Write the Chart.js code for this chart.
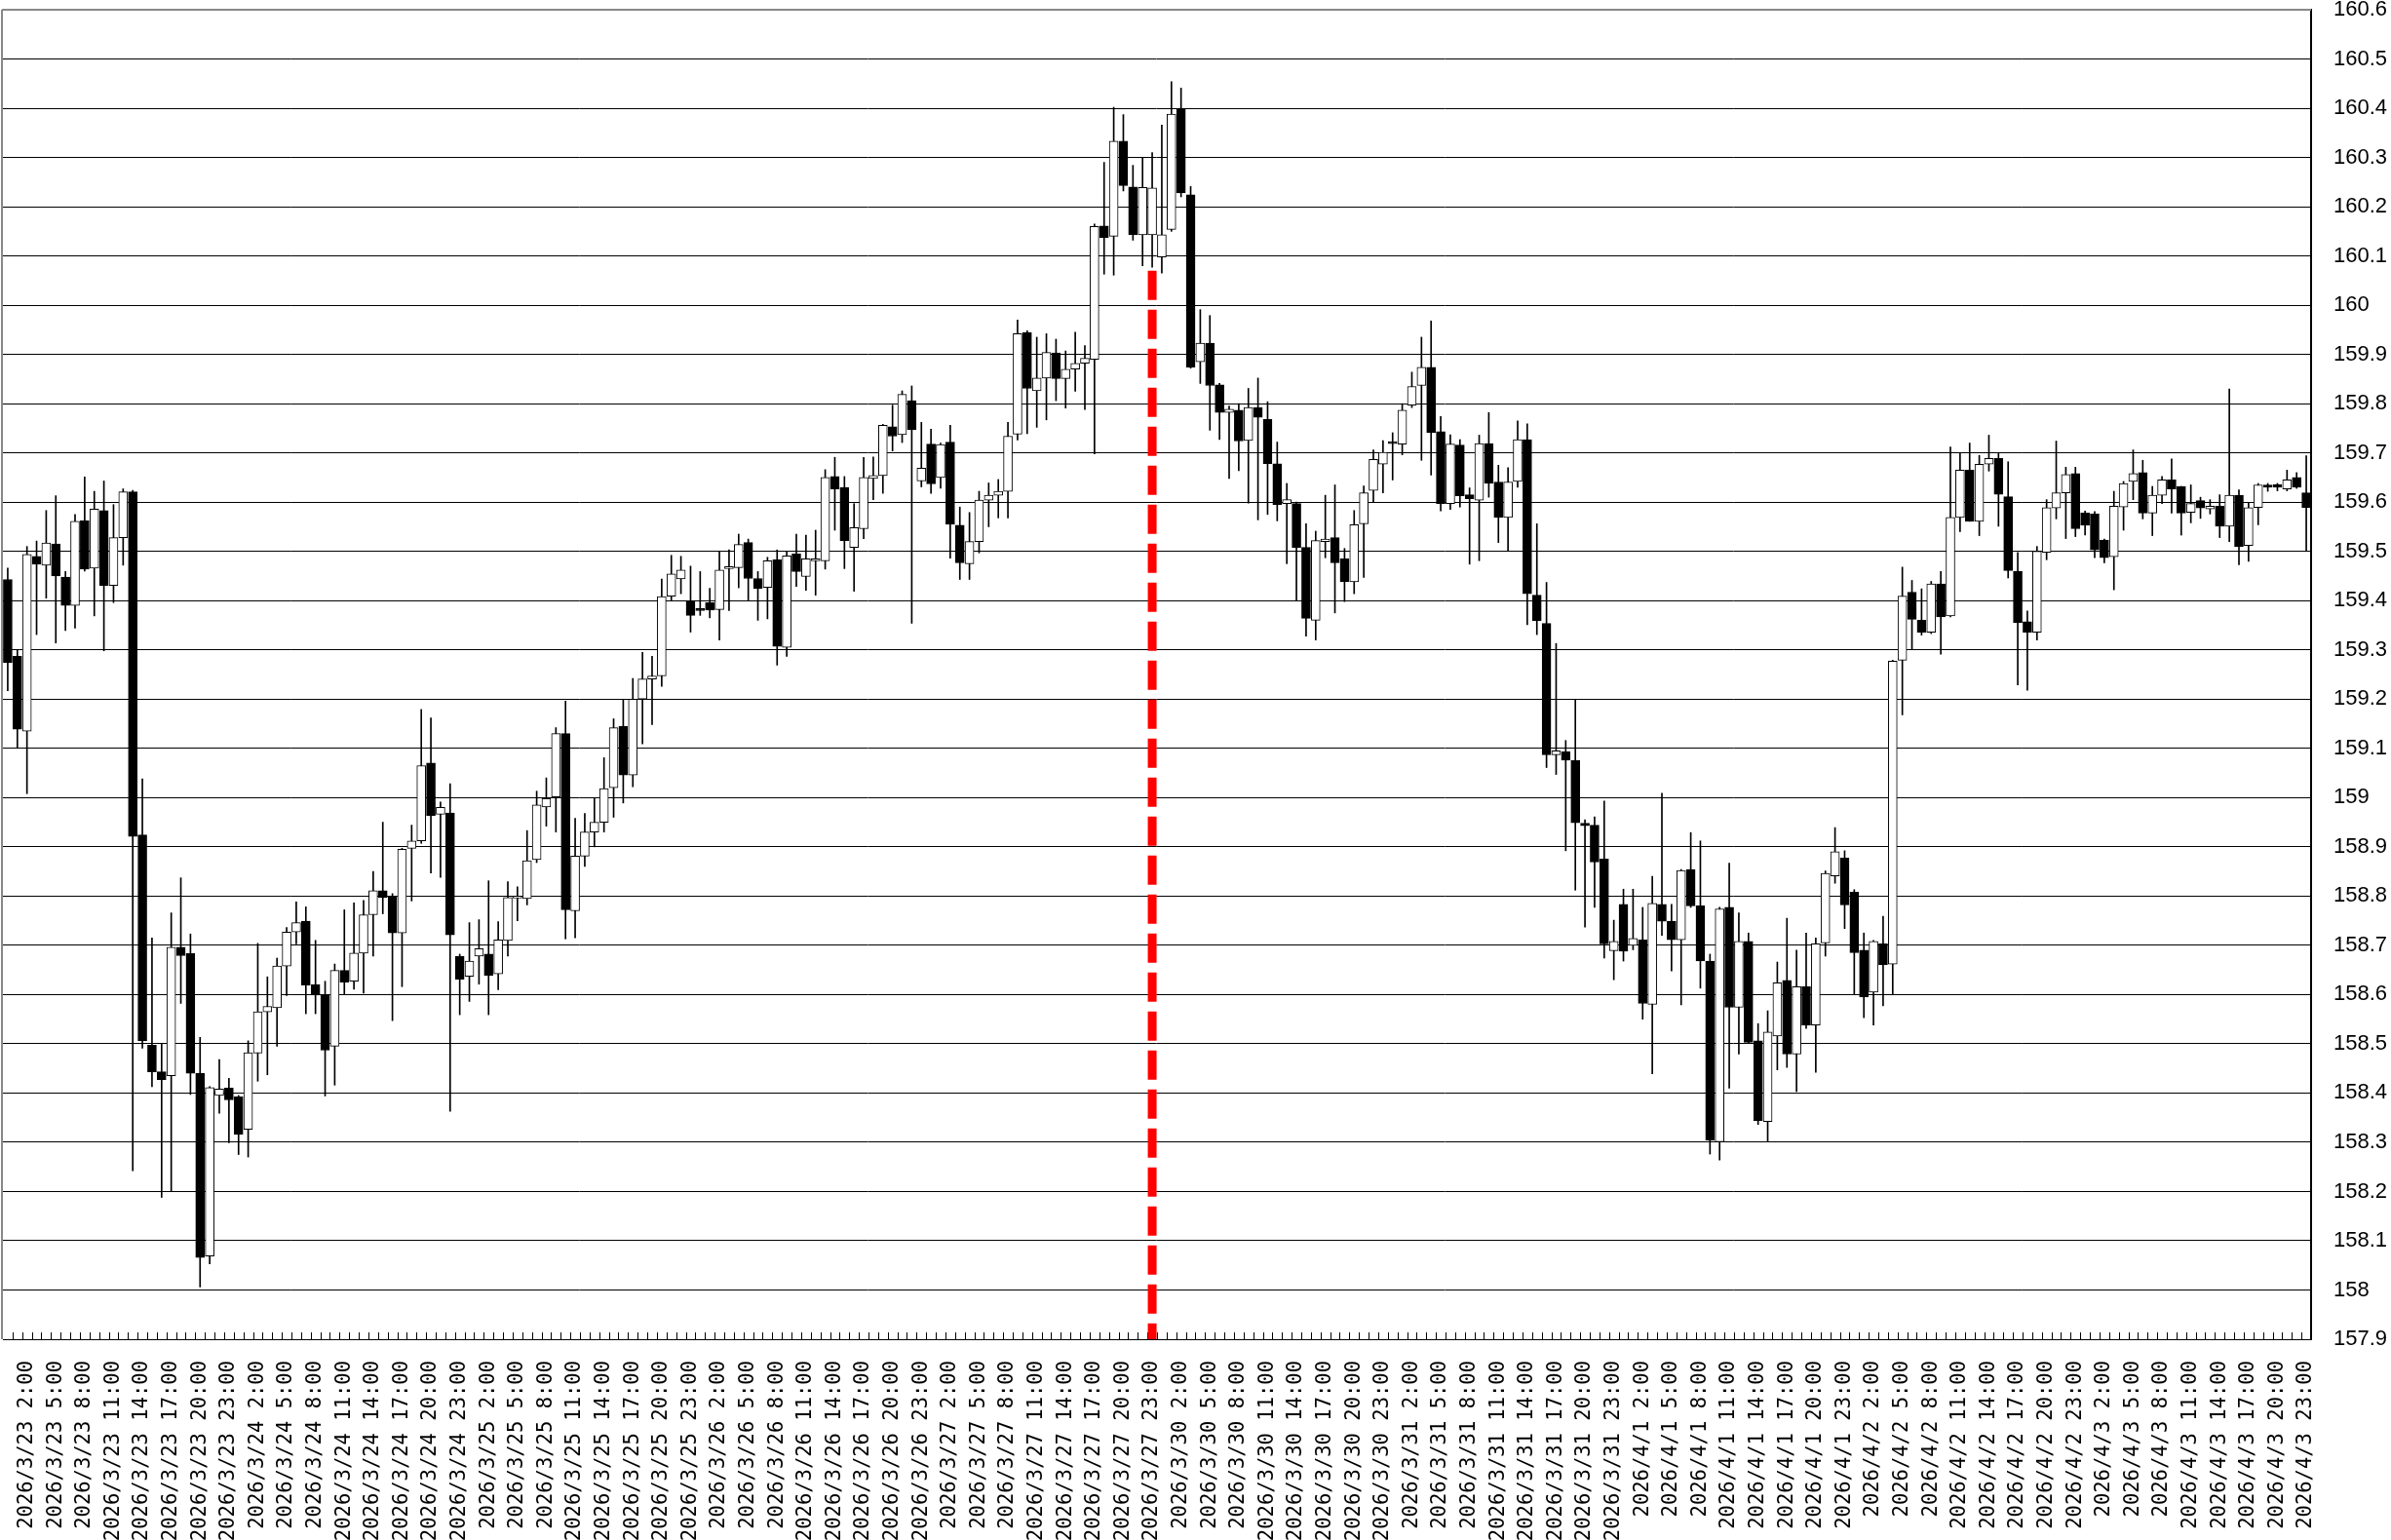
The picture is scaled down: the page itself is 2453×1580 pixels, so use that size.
<!DOCTYPE html>
<html>
<head>
<meta charset="utf-8">
<script src="https://cdn.jsdelivr.net/npm/chart.js@4.4.1/dist/chart.umd.min.js"></script>
<style>
  html, body { margin: 0; padding: 0; background: #fff; }
  #wrap { width: 2453px; height: 1580px; position: relative; }
</style>
</head>
<body>
<div id="wrap"><canvas id="c"></canvas></div>
<script>
// --- datos: velas de 1 hora USD/JPY ---
const days = ['2026/3/23', '2026/3/24', '2026/3/25', '2026/3/26', '2026/3/27',
              '2026/3/30', '2026/3/31', '2026/4/1', '2026/4/2', '2026/4/3'];

const open = [
  159.443,159.287,159.135,159.49,159.472,159.515,159.448,159.39,159.562,159.466,
  159.583,159.431,159.528,159.621,158.924,158.497,158.443,158.435,158.696,158.683,
  158.44,158.069,158.395,158.41,158.392,158.326,158.481,158.565,158.573,158.658,
  158.727,158.749,158.62,158.599,158.495,158.649,158.627,158.684,158.762,158.811,
  158.799,158.725,158.897,158.912,159.07,158.966,158.969,158.678,158.637,158.678,
  158.682,158.642,158.71,158.796,158.795,158.874,158.981,159.001,159.13,158.77,
  158.881,158.93,158.95,159.02,159.145,159.046,159.2,159.241,159.247,159.409,
  159.444,159.4,159.382,159.396,159.382,159.465,159.467,159.518,159.445,159.427,
  159.483,159.305,159.495,159.449,159.481,159.481,159.652,159.63,159.508,159.546,
  159.648,159.654,159.753,159.737,159.806,159.643,159.718,159.65,159.722,159.553,
  159.475,159.52,159.604,159.614,159.622,159.738,159.944,159.826,159.852,159.903,
  159.851,159.87,159.882,159.89,160.161,160.14,160.333,160.24,160.143,160.143,
  160.098,160.154,160.4,160.224,159.885,159.923,159.838,159.782,159.787,159.725,
  159.792,159.768,159.678,159.597,159.597,159.508,159.36,159.52,159.528,159.485,
  159.438,159.556,159.624,159.677,159.723,159.718,159.797,159.837,159.874,159.743,
  159.597,159.716,159.615,159.604,159.719,159.641,159.569,159.642,159.727,159.411,
  159.354,159.087,159.093,159.075,158.948,158.944,158.875,158.689,158.783,158.7,
  158.711,158.58,158.783,158.749,158.711,158.854,158.78,158.668,158.301,158.777,
  158.574,158.708,158.506,158.342,158.516,158.629,158.479,158.616,158.538,158.705,
  158.841,158.877,158.808,158.69,158.605,158.703,158.662,159.279,159.417,159.36,
  159.336,159.434,159.369,159.569,159.665,159.561,159.677,159.689,159.611,159.459,
  159.357,159.336,159.498,159.588,159.619,159.658,159.578,159.576,159.523,159.489,
  159.59,159.642,159.66,159.578,159.614,159.645,159.632,159.579,159.603,159.586,
  159.592,159.551,159.614,159.512,159.589,159.635,159.636,159.627,159.65,159.619
];

const high = [
  159.466,159.30,159.51,159.521,159.583,159.613,159.459,159.575,159.651,159.622,
  159.643,159.595,159.627,159.624,159.038,158.715,158.50,158.766,158.837,158.723,
  158.513,158.413,158.468,158.43,158.395,158.506,158.704,158.636,158.674,158.736,
  158.788,158.778,158.71,158.627,158.662,158.772,158.786,158.791,158.85,158.95,
  158.805,158.897,158.944,159.179,159.162,158.991,159.028,158.682,158.746,158.752,
  158.831,158.748,158.829,158.819,158.933,159.013,159.04,159.142,159.196,158.958,
  158.968,159.0,159.081,159.16,159.199,159.242,159.295,159.287,159.444,159.492,
  159.49,159.47,159.459,159.425,159.499,159.503,159.535,159.525,159.459,159.488,
  159.503,159.499,159.535,159.533,159.543,159.666,159.691,159.652,159.597,159.691,
  159.692,159.758,159.797,159.826,159.836,159.762,159.748,159.72,159.756,159.59,
  159.579,159.622,159.639,159.646,159.762,159.97,159.948,159.935,159.942,159.931,
  159.907,159.945,159.918,160.165,160.29,160.402,160.387,160.284,160.30,160.31,
  160.366,160.454,160.441,160.241,159.991,159.979,159.841,159.795,159.8,159.831,
  159.852,159.804,159.722,159.638,159.6,159.556,159.541,159.614,159.635,159.506,
  159.583,159.633,159.706,159.725,159.741,159.8,159.864,159.935,159.968,159.774,
  159.737,159.727,159.629,159.736,159.782,159.675,159.67,159.765,159.759,159.556,
  159.437,159.313,159.116,159.199,158.955,158.961,158.993,158.751,158.814,158.814,
  158.777,158.84,159.009,158.783,158.854,158.929,158.912,158.682,158.777,158.867,
  158.766,158.725,158.541,158.567,158.666,158.755,158.69,158.725,158.715,158.851,
  158.939,158.892,158.813,158.725,158.71,158.759,159.279,159.468,159.441,159.424,
  159.439,159.459,159.712,159.699,159.72,159.695,159.736,159.699,159.682,159.498,
  159.379,159.51,159.605,159.724,159.671,159.671,159.582,159.581,159.525,159.622,
  159.642,159.706,159.685,159.632,159.652,159.688,159.632,159.635,159.61,159.605,
  159.615,159.83,159.625,159.599,159.638,159.638,159.638,159.665,159.66,159.694
];

const low = [
  159.217,159.10,159.008,159.331,159.405,159.314,159.339,159.344,159.46,159.369,
  159.298,159.396,159.472,158.242,158.491,158.413,158.188,158.201,158.582,158.397,
  158.006,158.053,158.359,158.299,158.275,158.27,158.424,158.437,158.495,158.598,
  158.703,158.561,158.561,158.394,158.416,158.6,158.611,158.603,158.678,158.764,
  158.547,158.616,158.79,158.907,158.847,158.838,158.363,158.559,158.586,158.621,
  158.559,158.61,158.678,158.75,158.782,158.868,158.942,158.93,158.713,158.715,
  158.86,158.9,158.93,158.96,158.989,159.022,159.109,159.148,159.226,159.401,
  159.414,159.336,159.37,159.365,159.32,159.38,159.426,159.401,159.36,159.363,
  159.269,159.287,159.429,159.421,159.411,159.464,159.543,159.465,159.419,159.526,
  159.605,159.618,159.704,159.721,159.354,159.631,159.618,159.628,159.486,159.443,
  159.443,159.497,159.55,159.568,159.568,159.726,159.739,159.752,159.767,159.806,
  159.791,159.825,159.788,159.698,160.063,160.061,160.232,160.132,160.08,160.077,
  160.065,160.15,160.22,159.872,159.841,159.746,159.727,159.648,159.664,159.598,
  159.564,159.575,159.562,159.475,159.40,159.328,159.32,159.487,159.375,159.398,
  159.414,159.447,159.6,159.619,159.645,159.696,159.792,159.685,159.655,159.582,
  159.585,159.59,159.474,159.481,159.61,159.518,159.501,159.63,159.351,159.331,
  159.061,159.047,158.892,158.812,158.737,158.777,158.674,158.63,158.668,158.691,
  158.55,158.439,158.72,158.648,158.579,158.777,158.613,158.276,158.264,158.41,
  158.479,158.501,158.336,158.301,158.447,158.452,158.403,158.531,158.442,158.678,
  158.826,158.734,158.6,158.553,158.538,158.577,158.6,159.168,159.301,159.33,
  159.333,159.291,159.367,159.54,159.561,159.532,159.663,159.551,159.446,159.229,
  159.218,159.32,159.483,159.566,159.526,159.53,159.533,159.487,159.477,159.422,
  159.543,159.605,159.566,159.532,159.597,159.578,159.533,159.558,159.567,159.576,
  159.528,159.52,159.473,159.48,159.554,159.622,159.623,159.623,159.628,159.5
];

const close = [
  159.274,159.139,159.494,159.474,159.517,159.45,159.39,159.561,159.464,159.586,
  159.431,159.528,159.621,158.921,158.506,158.443,158.427,158.696,158.679,158.44,
  158.066,158.411,158.408,158.386,158.316,158.482,158.565,158.576,158.658,158.727,
  158.746,158.619,158.599,158.487,158.649,158.625,158.684,158.762,158.811,158.797,
  158.725,158.895,158.912,159.065,158.963,158.98,158.721,158.631,158.668,158.693,
  158.639,158.711,158.797,158.799,158.872,158.985,158.998,159.13,158.772,158.881,
  158.93,158.95,159.018,159.142,159.046,159.2,159.241,159.247,159.408,159.454,
  159.462,159.37,159.38,159.381,159.462,159.467,159.514,159.445,159.425,159.481,
  159.307,159.491,159.459,159.485,159.485,159.65,159.627,159.522,159.548,159.65,
  159.654,159.756,159.734,159.819,159.747,159.669,159.637,159.717,159.555,159.477,
  159.52,159.604,159.614,159.622,159.734,159.942,159.831,159.852,159.904,159.851,
  159.87,159.882,159.892,160.16,160.137,160.333,160.243,160.143,160.239,160.238,
  160.143,160.388,160.228,159.874,159.923,159.837,159.782,159.789,159.724,159.792,
  159.772,159.678,159.595,159.605,159.508,159.364,159.522,159.525,159.477,159.438,
  159.554,159.619,159.687,159.701,159.719,159.787,159.835,159.874,159.741,159.597,
  159.718,159.613,159.607,159.719,159.638,159.569,159.641,159.727,159.414,159.359,
  159.087,159.095,159.076,158.949,158.943,158.869,158.703,158.708,158.688,158.714,
  158.582,158.785,158.749,158.711,158.852,158.78,158.668,158.304,158.774,158.574,
  158.708,158.503,158.344,158.524,158.624,158.479,158.616,158.538,158.703,158.846,
  158.89,158.782,158.685,158.595,158.708,158.661,159.277,159.409,159.362,159.336,
  159.434,159.367,159.569,159.665,159.561,159.677,159.689,159.616,159.461,159.355,
  159.336,159.5,159.589,159.619,159.656,159.546,159.553,159.503,159.487,159.592,
  159.638,159.658,159.578,159.614,159.645,159.627,159.578,159.597,159.588,159.592,
  159.551,159.614,159.51,159.589,159.635,159.63,159.63,159.645,159.63,159.589
];

// límites del eje y y la línea roja (fin de semana)
const yMin = 157.9;
const yMax = 160.6;
const yStep = 0.1;
const markerIndex = 119;      // 2026/3/27 23:00
const markerTop = 160.07;

// --- categorías: una por hora ---
const categories = [];
for (const d of days) {
  for (let h = 0; h < 24; h++) categories.push(d + ' ' + h + ':00');
}

const bodies = open.map((o, i) => [Math.min(o, close[i]), Math.max(o, close[i])]);
const wicks = low.map((l, i) => [l, high[i]]);
const bodyColors = open.map((o, i) => close[i] >= o ? '#ffffff' : '#000000');

// bordes, marcas inferiores y línea roja
const extras = {
  id: 'extras',
  afterDraw(chart) {
    const { ctx, chartArea: a, scales: { x, y } } = chart;
    ctx.save();
    // marcas pequeñas en el borde inferior (entre velas)
    ctx.strokeStyle = '#000';
    ctx.lineWidth = 1;
    ctx.beginPath();
    for (let i = 1; i < categories.length; i++) {
      const px = Math.round((x.getPixelForValue(i - 1) + x.getPixelForValue(i)) / 2) + 0.5;
      ctx.moveTo(px, a.bottom);
      ctx.lineTo(px, a.bottom - 7);
    }
    ctx.stroke();
    // borde superior e izquierdo gris
    ctx.strokeStyle = '#888';
    ctx.lineWidth = 2;
    ctx.beginPath();
    ctx.moveTo(a.left - 1, a.top);
    ctx.lineTo(a.right, a.top);
    ctx.moveTo(a.left - 1, a.top);
    ctx.lineTo(a.left - 1, a.bottom);
    ctx.stroke();
    // línea roja discontinua
    const mx = x.getPixelForValue(markerIndex);
    ctx.strokeStyle = '#ff0000';
    ctx.lineWidth = 9;
    ctx.setLineDash([30, 10]);
    ctx.beginPath();
    ctx.moveTo(mx, y.getPixelForValue(markerTop));
    ctx.lineTo(mx, a.bottom);
    ctx.stroke();
    ctx.restore();
  }
};

new Chart(document.getElementById('c'), {
  type: 'bar',
  data: {
    labels: categories,
    datasets: [
      {
        label: 'body',
        data: bodies,
        backgroundColor: bodyColors,
        borderColor: '#000',
        borderWidth: 1,
        borderSkipped: false,
        barThickness: 9,
        minBarLength: 2,
        grouped: false
      },
      {
        label: 'wick',
        data: wicks,
        backgroundColor: '#000',
        borderWidth: 0,
        barThickness: 1,
        grouped: false
      }
    ]
  },
  options: {
    responsive: true,
    maintainAspectRatio: false,
    animation: false,
    layout: { padding: { top: 10, left: 3, right: 0, bottom: 0 } },
    plugins: { legend: { display: false }, tooltip: { enabled: false } },
    scales: {
      x: {
        offset: true,
        grid: { display: false },
        border: { display: true, color: '#000', width: 1 },
        ticks: {
          autoSkip: false,
          maxRotation: 90,
          minRotation: 90,
          padding: 14,
          color: '#000',
          font: { family: 'DejaVu Sans Mono', size: 20.5 },
          callback: function (value, index) {
            return index % 3 === 2 ? this.getLabelForValue(value) : '';
          }
        },
        afterFit: (scale) => {
          scale.height = 206;
          scale.paddingLeft = 0;
          scale.paddingRight = 0;
        }
      },
      y: {
        position: 'right',
        min: yMin,
        max: yMax,
        grid: { color: '#000', lineWidth: 1, drawTicks: false },
        border: { display: true, color: '#000', width: 2 },
        ticks: {
          stepSize: yStep,
          padding: 23,
          color: '#000',
          font: { family: 'Liberation Sans', size: 22 },
          callback: (v) => String(Number(v.toFixed(1)))
        },
        afterFit: (scale) => {
          scale.width = 82;
          scale.paddingTop = 0;
          scale.paddingBottom = 0;
        }
      }
    }
  },
  plugins: [extras]
});
</script>
</body>
</html>
